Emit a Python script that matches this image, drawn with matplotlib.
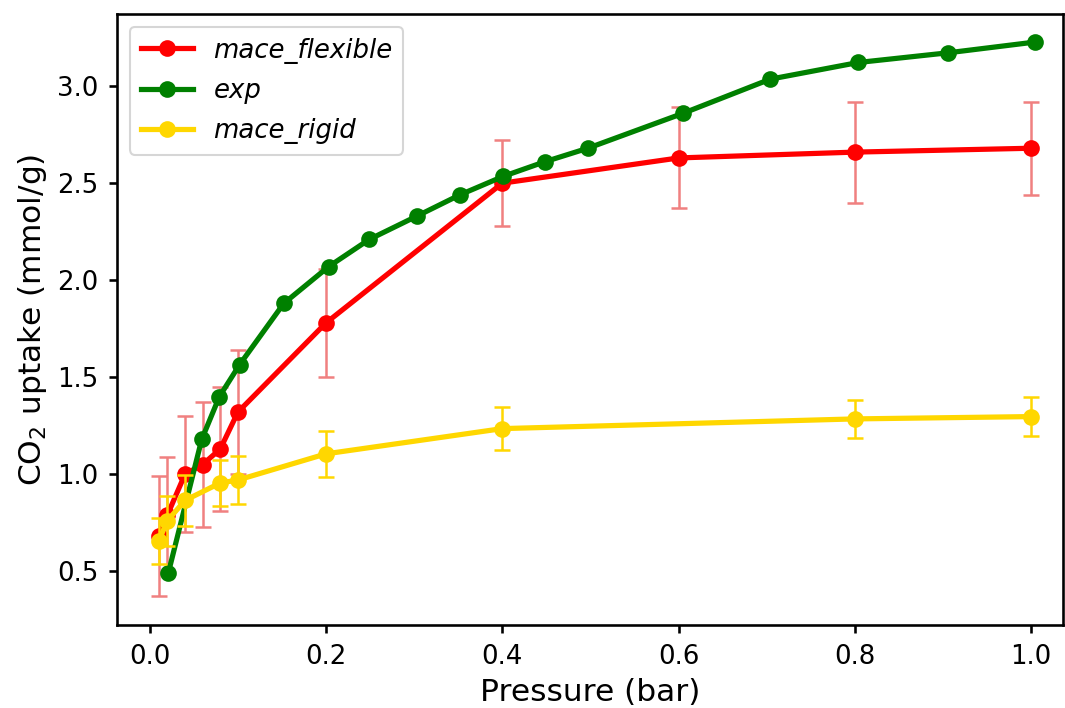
import matplotlib
matplotlib.use("Agg")
import matplotlib.pyplot as plt

# mace_flexible
flex_p = [0.01, 0.02, 0.04, 0.06, 0.08, 0.10, 0.20, 0.40, 0.60, 0.80, 1.00]
flex_u = [0.68, 0.79, 1.00, 1.05, 1.13, 1.32, 1.78, 2.50, 2.63, 2.66, 2.68]
flex_e = [0.31, 0.30, 0.30, 0.32, 0.32, 0.32, 0.28, 0.22, 0.26, 0.26, 0.24]

# experiment
exp_p = [0.021, 0.059, 0.079, 0.102, 0.152, 0.203, 0.249, 0.303, 0.352, 0.401,
         0.448, 0.497, 0.605, 0.704, 0.804, 0.906, 1.004]
exp_u = [0.49, 1.18, 1.40, 1.565, 1.88, 2.07, 2.21, 2.33, 2.44, 2.535,
         2.61, 2.68, 2.86, 3.036, 3.122, 3.172, 3.227]

# mace_rigid
rig_p = [0.01, 0.02, 0.04, 0.08, 0.10, 0.20, 0.40, 0.80, 1.00]
rig_u = [0.655, 0.76, 0.865, 0.955, 0.97, 1.105, 1.235, 1.285, 1.297]
rig_e = [0.12, 0.13, 0.13, 0.12, 0.125, 0.12, 0.11, 0.10, 0.10]

plt.rcParams["axes.linewidth"] = 1.25
plt.rcParams["xtick.major.width"] = 1.25
plt.rcParams["ytick.major.width"] = 1.25
plt.rcParams["xtick.major.size"] = 4
plt.rcParams["ytick.major.size"] = 4
plt.rcParams["xtick.major.pad"] = 5
plt.rcParams["ytick.major.pad"] = 5

fig = plt.figure(figsize=(7.1, 4.72), dpi=150)
ax = fig.add_axes([0.110, 0.117, 0.888, 0.863])

ax.errorbar(flex_p, flex_u, yerr=flex_e, fmt="none", ecolor="lightcoral",
            elinewidth=1.2, capsize=4, capthick=1.2, zorder=1)
ax.plot(flex_p, flex_u, "-o", color="red", lw=2.5, ms=7, label="mace_flexible", zorder=2)
ax.plot(exp_p, exp_u, "-o", color="green", lw=2.5, ms=7, label="exp", zorder=3)
ax.errorbar(rig_p, rig_u, yerr=rig_e, fmt="none", ecolor="gold",
            elinewidth=1.2, capsize=4, capthick=1.2, zorder=4)
ax.plot(rig_p, rig_u, "-o", color="gold", lw=2.5, ms=7, label="mace_rigid", zorder=5)

ax.set_xlim(-0.037, 1.036)
ax.set_ylim(0.222, 3.371)
ax.tick_params(labelsize=12.5)
ax.set_xlabel("Pressure (bar)", fontsize=15)
ax.set_ylabel("CO$_2$ uptake (mmol/g)", fontsize=15)
ax.legend(loc="upper left", prop={"style": "italic", "size": 12.5}, labelspacing=0.55)

fig.savefig("out.png", dpi=150)
